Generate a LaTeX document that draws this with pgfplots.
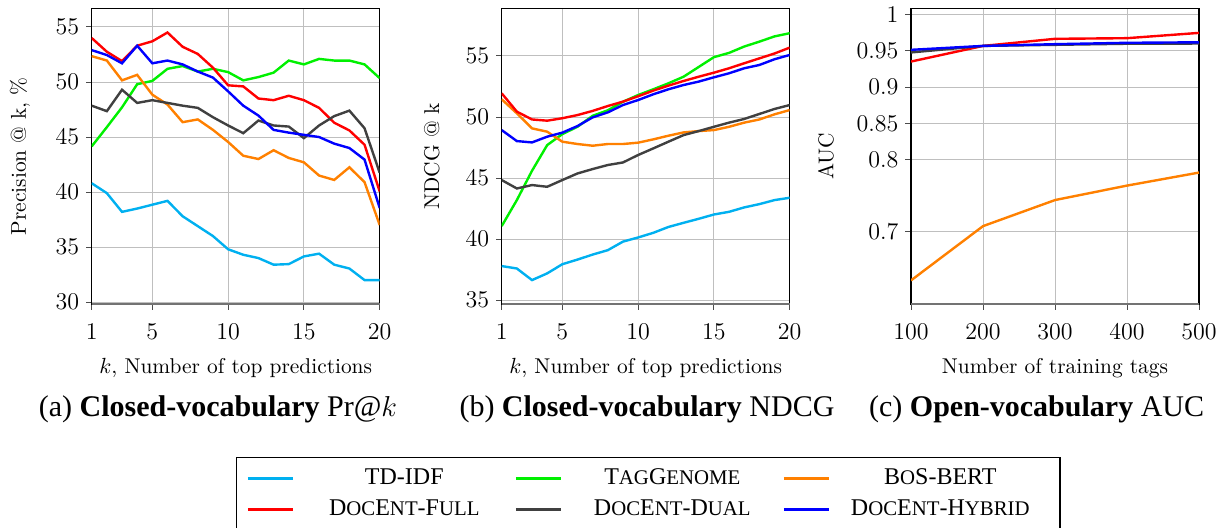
\documentclass[border=0pt]{standalone}
\usepackage{fontspec}
\usepackage{pgfplots}
\usepackage{pgfplotstable}
\pgfplotsset{compat=1.18}
\newfontfamily\tnr{Liberation Serif}
\newcommand{\fsc}[1]{{\fontsize{10.4}{12}\selectfont #1}}

\definecolor{ctdidf}{RGB}{0,176,240}
\definecolor{cgenome}{RGB}{0,240,0}
\definecolor{cbert}{RGB}{255,128,0}
\definecolor{cfull}{RGB}{255,0,0}
\definecolor{cdual}{RGB}{64,64,64}
\definecolor{chybrid}{RGB}{0,0,255}

% precision @ k
\pgfplotstableread{
k tdidf genome bert full dual hybrid
1  40.8  44.15 52.35 54.0  47.85 52.9
2  39.9  45.9  51.95 52.75 47.35 52.45
3  38.2  47.7  50.15 51.9  49.3  51.7
4  38.5  49.8  50.65 53.3  48.1  53.3
5  38.85 50.1  48.85 53.7  48.35 51.7
6  39.2  51.2  47.95 54.5  48.1  51.95
7  37.8  51.45 46.35 53.2  47.85 51.6
8  36.9  50.95 46.6  52.55 47.65 50.95
9  36.0  51.2  45.65 51.3  46.8  50.4
10 34.8  50.9  44.55 49.7  46.05 49.15
11 34.3  50.15 43.3  49.6  45.35 47.85
12 34.0  50.45 43.0  48.5  46.5  46.95
13 33.4  50.85 43.8  48.35 46.05 45.65
14 33.45 51.95 43.1  48.75 45.95 45.4
15 34.15 51.6  42.7  48.35 44.9  45.2
16 34.4  52.1  41.5  47.65 46.05 45.0
17 33.4  51.95 41.1  46.3  46.9  44.4
18 33.05 51.95 42.25 45.6  47.4  44.0
19 32.0  51.6  40.9  44.3  45.8  42.95
20 32.0  50.35 37.0  40.05 41.75 38.55
}\prec

% NDCG @ k
\pgfplotstableread{
k tdidf genome bert full dual hybrid
1  37.8  41.07 51.45 51.94 44.84 48.93
2  37.6  43.2  50.3  50.44 44.15 48.03
3  36.65 45.6  49.07 49.8  44.43 47.92
4  37.2  47.7  48.8  49.7  44.29 48.39
5  37.95 48.6  47.98 49.9  44.84 48.72
6  38.33 49.2  47.79 50.16 45.38 49.26
7  38.74 50.1  47.65 50.5  45.74 49.97
8  39.1  50.55 47.79 50.9  46.07 50.38
9  39.8  51.25 47.79 51.26 46.28 50.98
10 40.14 51.8  47.9  51.7  46.89 51.39
11 40.52 52.27 48.17 52.16 47.43 51.86
12 41.0  52.76 48.47 52.57 47.98 52.27
13 41.34 53.3  48.74 52.95 48.52 52.62
14 41.67 54.1  48.85 53.3  48.85 52.9
15 42.02 54.9  48.93 53.63 49.2  53.25
16 42.24 55.25 49.2  53.99 49.54 53.58
17 42.6  55.77 49.54 54.4  49.84 53.99
18 42.87 56.17 49.8  54.8  50.25 54.26
19 43.2  56.6  50.22 55.2  50.66 54.73
20 43.39 56.86 50.57 55.68 50.98 55.08
}\ndcg

% open-vocabulary AUC
\pgfplotstableread{
n   bert  full   dual   hybrid
100 0.633 0.9354 0.948  0.9516
200 0.708 0.957  0.957  0.957
300 0.744 0.9668 0.9585 0.9594
400 0.764 0.9677 0.96   0.9613
500 0.782 0.975  0.9603 0.962
}\auc

\pgfplotsset{
  panel/.style={
    scale only axis, width=144pt, height=148pt, anchor=south west,
    axis line style={black, line width=0.6pt},
    xtick pos=bottom, ytick pos=left,
    tick align=outside, major tick length=2.8pt,
    tick style={black!70, line width=0.5pt},
    grid=major, major grid style={black!25, line width=0.5pt},
    tick label style={font=\fontsize{11.5}{13}\selectfont},
    xticklabel style={yshift=-3.5pt},
    label style={font=\fontsize{10.7}{12}\selectfont},
    xlabel style={at={(axis description cs:0.5,-0.215)}, anchor=center},
    every axis plot/.append style={line width=1.2pt, mark=none},
    extra description/.code={\draw[black!55, line width=1.2pt] (rel axis cs:0,0) -- (rel axis cs:1,0);},
  },
}

\begin{document}
\begin{tikzpicture}
\useasboundingbox (0,0) rectangle (613pt,264pt);

\begin{axis}[panel, at={(45.85pt,111.85pt)},
  xmin=1, xmax=20, xtick={1,5,10,15,20},
  ymin=29.8, ymax=56.7, ytick={30,35,40,45,50,55},
  xlabel={$k$, Number of top predictions},
  ylabel={Precision @ k, \%},
  ylabel style={at={(axis description cs:-0.249,0.5)}, anchor=center},
]
\addplot[ctdidf]  table[x=k,y=tdidf]  {\prec};
\addplot[cgenome] table[x=k,y=genome] {\prec};
\addplot[cbert]   table[x=k,y=bert]   {\prec};
\addplot[cfull]   table[x=k,y=full]   {\prec};
\addplot[cdual]   table[x=k,y=dual]   {\prec};
\addplot[chybrid] table[x=k,y=hybrid] {\prec};
\end{axis}

\begin{axis}[panel, at={(250.85pt,111.85pt)},
  xmin=1, xmax=20, xtick={1,5,10,15,20},
  ymin=34.67, ymax=58.9, ytick={35,40,45,50,55},
  xlabel={$k$, Number of top predictions},
  ylabel={NDCG @ k},
  ylabel style={at={(axis description cs:-0.243,0.5)}, anchor=center},
  legend columns=3,
  legend image code/.code={\draw[#1, line width=1.5pt] (0pt,0pt) -- (22.5pt,0pt);},
  legend style={at={(axis description cs:-0.9226,-0.5159)}, anchor=north west,
    draw=black, line width=0.6pt, inner xsep=4.85pt, inner ysep=5pt,
    column sep=0pt, row sep=4.5pt,
    font=\tnr\fontsize{12}{14}\selectfont,
    nodes={inner sep=0pt, text height=8.5pt, text depth=2.5pt}},
]
\addplot[ctdidf]  table[x=k,y=tdidf]  {\ndcg};
\addlegendentry{\makebox[110pt]{TD-IDF}}
\addplot[cgenome] table[x=k,y=genome] {\ndcg};
\addlegendentry{\makebox[110pt]{T\fsc{AG}G\fsc{ENOME}}}
\addplot[cbert]   table[x=k,y=bert]   {\ndcg};
\addlegendentry{\makebox[110pt]{B\fsc{O}S-BERT}}
\addplot[cfull]   table[x=k,y=full]   {\ndcg};
\addlegendentry{\makebox[110pt]{D\fsc{OC}E\fsc{NT}-F\fsc{ULL}}}
\addplot[cdual]   table[x=k,y=dual]   {\ndcg};
\addlegendentry{\makebox[110pt]{D\fsc{OC}E\fsc{NT}-D\fsc{UAL}}}
\addplot[chybrid] table[x=k,y=hybrid] {\ndcg};
\addlegendentry{\makebox[110pt]{D\fsc{OC}E\fsc{NT}-H\fsc{YBRID}}}
\end{axis}

\begin{axis}[panel, at={(455.5pt,111.85pt)},
  xmin=100, xmax=500, xtick={100,200,300,400,500},
  ymin=0.6, ymax=1.009, ytick={0.7,0.8,0.85,0.9,0.95,1},
  xlabel={Number of training tags},
  ylabel={AUC},
  ylabel style={at={(axis description cs:-0.295,0.5)}, anchor=center},
]
\addplot[cbert]   table[x=n,y=bert]   {\auc};
\addplot[cfull]   table[x=n,y=full]   {\auc};
\addplot[cdual]   table[x=n,y=dual]   {\auc};
\addplot[chybrid] table[x=n,y=hybrid] {\auc};
\end{axis}

\begin{scope}[every node/.style={font=\tnr\fontsize{15}{17}\selectfont, anchor=center}]
\node at (109pt,59.5pt)   {(a) \textbf{Closed-vocabulary} Pr@$k$};
\node at (323.5pt,59.5pt) {(b) \textbf{Closed-vocabulary} NDCG};
\node at (518.3pt,59.5pt) {(c) \textbf{Open-vocabulary} AUC};
\end{scope}
\end{tikzpicture}
\end{document}
